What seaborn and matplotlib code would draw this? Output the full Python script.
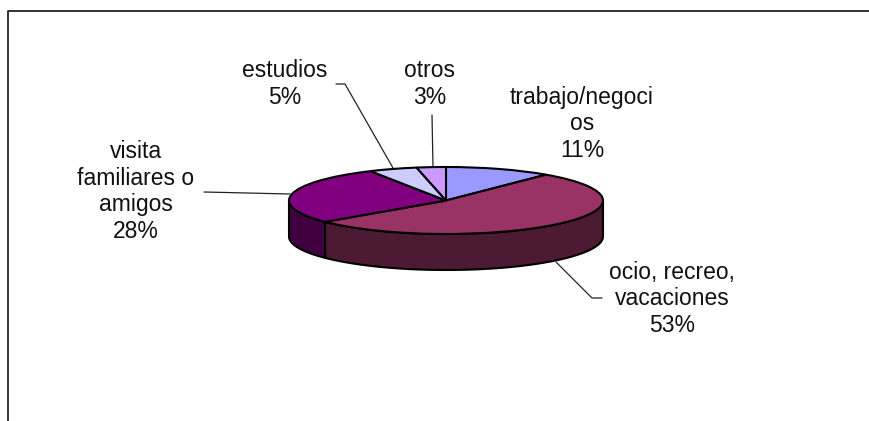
import numpy as np
import matplotlib
matplotlib.use("Agg")
import matplotlib.pyplot as plt
from matplotlib.lines import Line2D
import seaborn as sns

# values, clockwise from 12 o'clock
categories = ["trabajo/negoci\nos", "ocio, recreo,\nvacaciones", "visita\nfamiliares o\namigos", "estudios", "otros"]
shares = [11, 53, 28, 5, 3]
slice_colors = ["#9999FF", "#993366", "#800080", "#CCCCFF", "#CC99FF"]
side_colors = ["#4D4D80", "#4D1A33", "#400040", "#666680", "#664D80"]

W, H = 870, 421
CX, CY, RX, RY = 446, 200.5, 157, 33.5
DEPTH = 36 / RY

sns.set_theme(style="white")
plt.rcParams["font.family"] = ["Liberation Sans", "DejaVu Sans"]


def add_line(fig, xs, ys, lw=0.9, color="#222222"):
    fig.add_artist(Line2D([x / W for x in xs], [1 - y / H for y in ys], lw=lw, color=color,
                          transform=fig.transFigure))


def add_label(fig, x, y, text):
    fig.text(x / W, 1 - y / H, text, ha="center", va="baseline", fontsize=16.5,
             linespacing=1.2, color="#111111")


fig = plt.figure(figsize=(W / 100, H / 100), dpi=100, facecolor="white")
ax = fig.add_axes([0, 0, 1, 1])

# side wall of the disc, only the front half is visible
fractions = np.cumsum([0] + shares) / sum(shares)
for i, col in enumerate(side_colors):
    start = 90 - 360 * fractions[i]
    end = 90 - 360 * fractions[i + 1]
    hi, lo = min(start, 0), max(end, -180)
    if hi <= lo:
        continue
    t = np.radians(np.linspace(hi, lo, 80))
    x = np.cos(t)
    y = np.sin(t)
    ax.fill(np.r_[x, x[::-1]], np.r_[y, y[::-1] - DEPTH], facecolor=col, edgecolor="black", lw=1.5)

ax.pie(shares, colors=sns.color_palette(slice_colors), startangle=90, counterclock=False,
       wedgeprops={"edgecolor": "black", "linewidth": 1.5})
ax.set_aspect("auto")
ax.set_xlim(-CX / RX, (W - CX) / RX)
ax.set_ylim((CY - H) / RY, CY / RY)

# chart frame, clipped on the right and bottom
add_line(fig, [8.5, 8.5, W], [H, 11, 11], lw=1.3, color="#222222")

# leader lines
add_line(fig, [556, 592, 602], [262, 298, 298])
add_line(fig, [336, 345, 393], [84, 84, 168])
add_line(fig, [432, 433], [115, 167])
add_line(fig, [204, 290], [192, 194])

add_label(fig, 582, 157, f"{categories[0]}\n{shares[0]}%")
add_label(fig, 672, 332, f"{categories[1]}\n{shares[1]}%")
add_label(fig, 136, 238, f"{categories[2]}\n{shares[2]}%")
add_label(fig, 285, 104, f"{categories[3]}\n{shares[3]}%")
add_label(fig, 430, 104, f"{categories[4]}\n{shares[4]}%")

fig.savefig("out.png", dpi=100)
